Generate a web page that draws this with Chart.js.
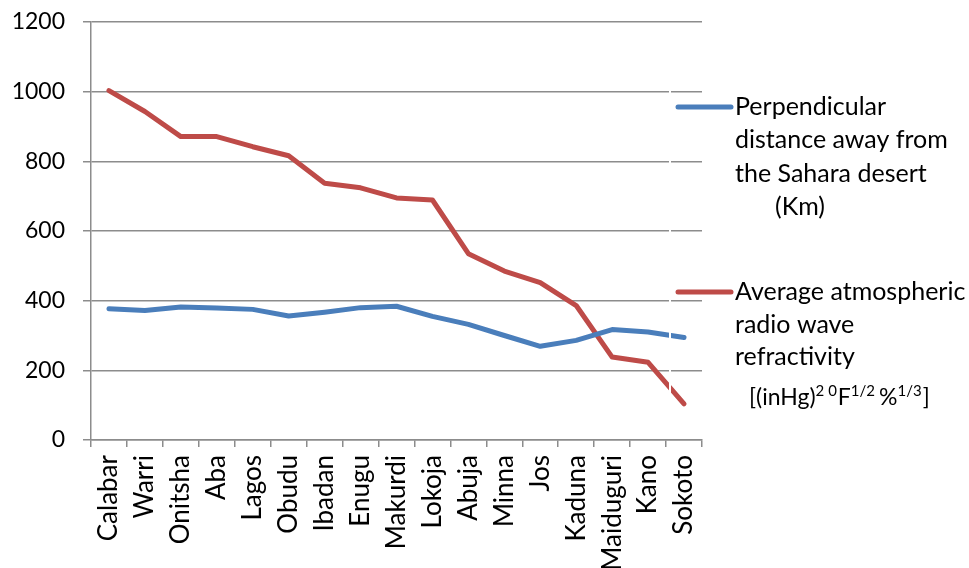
<!DOCTYPE html>
<html>
<head>
<meta charset="utf-8">
<script src="https://cdn.jsdelivr.net/npm/chart.js@4/dist/chart.umd.min.js"></script>
<style>
  html, body { margin: 0; padding: 0; background: #ffffff; }
  #wrap { position: relative; width: 969px; height: 568px; }
</style>
</head>
<body>
<div id="wrap"><canvas id="chart" width="969" height="568"></canvas></div>
<script>
// Cities, ordered from the coast towards the north
const cities = ['Calabar', 'Warri', 'Onitsha', 'Aba', 'Lagos', 'Obudu', 'Ibadan', 'Enugu',
  'Makurdi', 'Lokoja', 'Abuja', 'Minna', 'Jos', 'Kaduna', 'Maiduguri', 'Kano', 'Sokoto'];

// Perpendicular distance away from the Sahara desert (Km)
const distanceKm = [377, 372, 382, 379, 375, 356, 367, 380, 384, 355, 332, 300, 269, 286, 317, 310, 294];

// Average atmospheric radio wave refractivity
const refractivity = [1003, 943, 871, 871, 842, 816, 737, 724, 695, 689, 535, 485, 452, 386, 238, 223, 104];

// Y axis range and step
const yTicks = { min: 0, max: 1200, step: 200 };

const seriesNames = ['Perpendicular distance away from the Sahara desert (Km)',
  'Average atmospheric radio wave refractivity [(inHg)2 0F1/2 %1/3]'];

const FONT = 'Lato, "Open Sans", sans-serif';
const BLUE = '#4a7ebb';
const RED = '#be4b48';
const GRID = '#8c8c8c';

// Legend drawn at the right, overlapping the plot edge
const sideLegend = {
  id: 'sideLegend',
  afterDatasetsDraw(chart) {
    const ctx = chart.ctx;
    ctx.save();
    // thin white edge of the legend box
    ctx.fillStyle = '#ffffff';
    ctx.fillRect(669, 84, 2, 331);

    ctx.lineCap = 'round';
    ctx.lineWidth = 5;
    const items = [
      { color: BLUE, y: 107, step: 33.3, lines: [
        { x: 735, text: 'Perpendicular' },
        { x: 735, text: 'distance away from' },
        { x: 735, text: 'the Sahara desert' },
        { x: 775, text: '(Km)' }
      ] },
      { color: RED, y: 292, step: 32.5, lines: [
        { x: 735, text: 'Average atmospheric' },
        { x: 735, text: 'radio wave' },
        { x: 735, text: 'refractivity' }
      ] }
    ];
    ctx.fillStyle = '#000000';
    ctx.textBaseline = 'middle';
    ctx.textAlign = 'left';
    items.forEach(item => {
      ctx.strokeStyle = item.color;
      ctx.beginPath();
      ctx.moveTo(678, item.y);
      ctx.lineTo(731, item.y);
      ctx.stroke();
      ctx.font = '25px ' + FONT;
      item.lines.forEach((ln, i) => {
        ctx.fillText(ln.text, ln.x, item.y + i * item.step);
      });
    });

    // unit of refractivity, with superscripts
    const parts = [
      { t: '[(inHg)', sup: false, gap: 0 },
      { t: '2 0', sup: true, gap: 0 },
      { t: 'F', sup: false, gap: 0 },
      { t: '1/2', sup: true, gap: 3 },
      { t: '%', sup: false, gap: 0 },
      { t: '1/3', sup: true, gap: 0 },
      { t: ']', sup: false, gap: 0 }
    ];
    let x = 749;
    const baseY = 405;
    ctx.textBaseline = 'alphabetic';
    parts.forEach(p => {
      ctx.font = (p.sup ? '15px ' : '23px ') + FONT;
      const y = p.sup ? baseY - 9 : baseY;
      ctx.fillText(p.t, x, y);
      x += ctx.measureText(p.t).width + p.gap + (p.sup ? 1 : 0);
    });
    ctx.restore();
  }
};

new Chart(document.getElementById('chart'), {
  type: 'line',
  data: {
    labels: cities,
    datasets: [
      { label: seriesNames[0], data: distanceKm, borderColor: BLUE, backgroundColor: BLUE },
      { label: seriesNames[1], data: refractivity, borderColor: RED, backgroundColor: RED }
    ]
  },
  options: {
    responsive: false,
    animation: false,
    devicePixelRatio: 1,
    layout: { padding: { left: 0, top: 22, right: 267, bottom: 0 } },
    elements: {
      line: { borderWidth: 5, tension: 0, borderCapStyle: 'round', borderJoinStyle: 'round' },
      point: { radius: 0, hoverRadius: 0 }
    },
    plugins: {
      legend: { display: false },
      tooltip: { enabled: false }
    },
    scales: {
      x: {
        type: 'category',
        offset: true,
        afterFit(scale) {
          scale.height = 128;
          scale.paddingLeft = 0;
          scale.paddingRight = 0;
        },
        grid: {
          offset: true,
          drawOnChartArea: false,
          drawTicks: true,
          tickLength: 7,
          color: GRID,
          lineWidth: 1.5
        },
        border: { color: GRID, width: 1.5 },
        ticks: {
          color: '#000000',
          font: { family: FONT, size: 26 },
          minRotation: 90,
          maxRotation: 90,
          autoSkip: false,
          padding: 8
        }
      },
      y: {
        min: yTicks.min,
        max: yTicks.max,
        afterFit(scale) {
          scale.width = 91;
          scale.paddingTop = 0;
          scale.paddingBottom = 0;
        },
        grid: {
          color: GRID,
          lineWidth: 1.5,
          drawTicks: true,
          tickLength: 8
        },
        border: { color: GRID, width: 1.5 },
        ticks: {
          stepSize: yTicks.step,
          color: '#000000',
          font: { family: FONT, size: 23 },
          padding: 18,
          callback: (v) => String(v)
        }
      }
    }
  },
  plugins: [sideLegend]
});
</script>
</body>
</html>
